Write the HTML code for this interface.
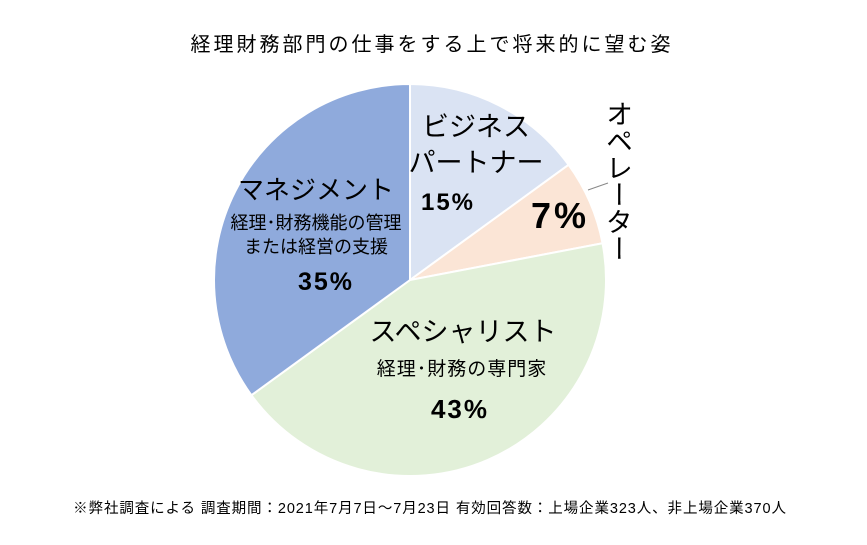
<!DOCTYPE html>
<html><head><meta charset="utf-8">
<style>
body{margin:0;background:#fff;}
svg text{font-family:"Liberation Sans","Noto Sans CJK JP",sans-serif;fill:#000;}
</style></head>
<body>
<svg width="867" height="540" viewBox="0 0 867 540">
<text x="432" y="51" font-size="20" letter-spacing="3" text-anchor="middle">経理財務部門の仕事をする上で将来的に望む姿</text>
<g id="slices"></g>
<line x1="588" y1="190" x2="608" y2="183" stroke="#888" stroke-width="1"/>
<g>
<text x="476" y="136" font-size="27" text-anchor="middle">ビジネス</text>
<text x="476" y="172" font-size="27" text-anchor="middle">パートナー</text>
<text x="448" y="210" font-size="24" font-weight="bold" letter-spacing="2" text-anchor="middle">15%</text>
</g>
<text x="560" y="228" font-size="36" font-weight="bold" letter-spacing="3" text-anchor="middle">7%</text>
<text x="617" y="100" font-size="27" style="writing-mode:vertical-rl;">オペレーター</text>
<g>
<text x="316" y="199" font-size="26" text-anchor="middle">マネジメント</text>
<text x="316" y="229" font-size="18" text-anchor="middle">経理･財務機能の管理</text>
<text x="316" y="253" font-size="18" text-anchor="middle">または経営の支援</text>
<text x="326" y="290" font-size="25" font-weight="bold" letter-spacing="2" text-anchor="middle">35%</text>
</g>
<g>
<text x="463" y="341" font-size="27" text-anchor="middle">スペシャリスト</text>
<text x="462" y="375" font-size="19" letter-spacing="1" text-anchor="middle">経理･財務の専門家</text>
<text x="460" y="418" font-size="26" font-weight="bold" letter-spacing="2" text-anchor="middle">43%</text>
</g>
<text x="430" y="513" font-size="14.5" letter-spacing="0.9" text-anchor="middle">※弊社調査による 調査期間：2021年7月7日～7月23日 有効回答数：上場企業323人、非上場企業370人</text>
</svg>
<script>
const categories=["ビジネスパートナー","オペレーター","スペシャリスト","マネジメント"];
const values=[15,7,43,35];
const colors=["#dae3f3","#fbe5d6","#e2f0d9","#8faadc"];
const names=["slice-business-partner","slice-operator","slice-specialist","slice-management"];
const cx=410,cy=280,r=196;
const g=document.getElementById('slices');
const total=values.reduce((a,b)=>a+b,0);
let acc=0;
function pt(f){const a=f*2*Math.PI;return [cx+r*Math.sin(a),cy-r*Math.cos(a)];}
values.forEach((v,i)=>{
const f0=acc/total;acc+=v;const f1=acc/total;
const p0=pt(f0),p1=pt(f1);
const large=(f1-f0)>0.5?1:0;
const p=document.createElementNS('http://www.w3.org/2000/svg','path');
p.setAttribute('d',`M${cx},${cy} L${p0[0]},${p0[1]} A${r},${r} 0 ${large} 1 ${p1[0]},${p1[1]} Z`);
p.setAttribute('fill',colors[i]);
p.setAttribute('stroke','#fff');
p.setAttribute('stroke-width','2');


g.appendChild(p);
});
</script>
</body></html>
